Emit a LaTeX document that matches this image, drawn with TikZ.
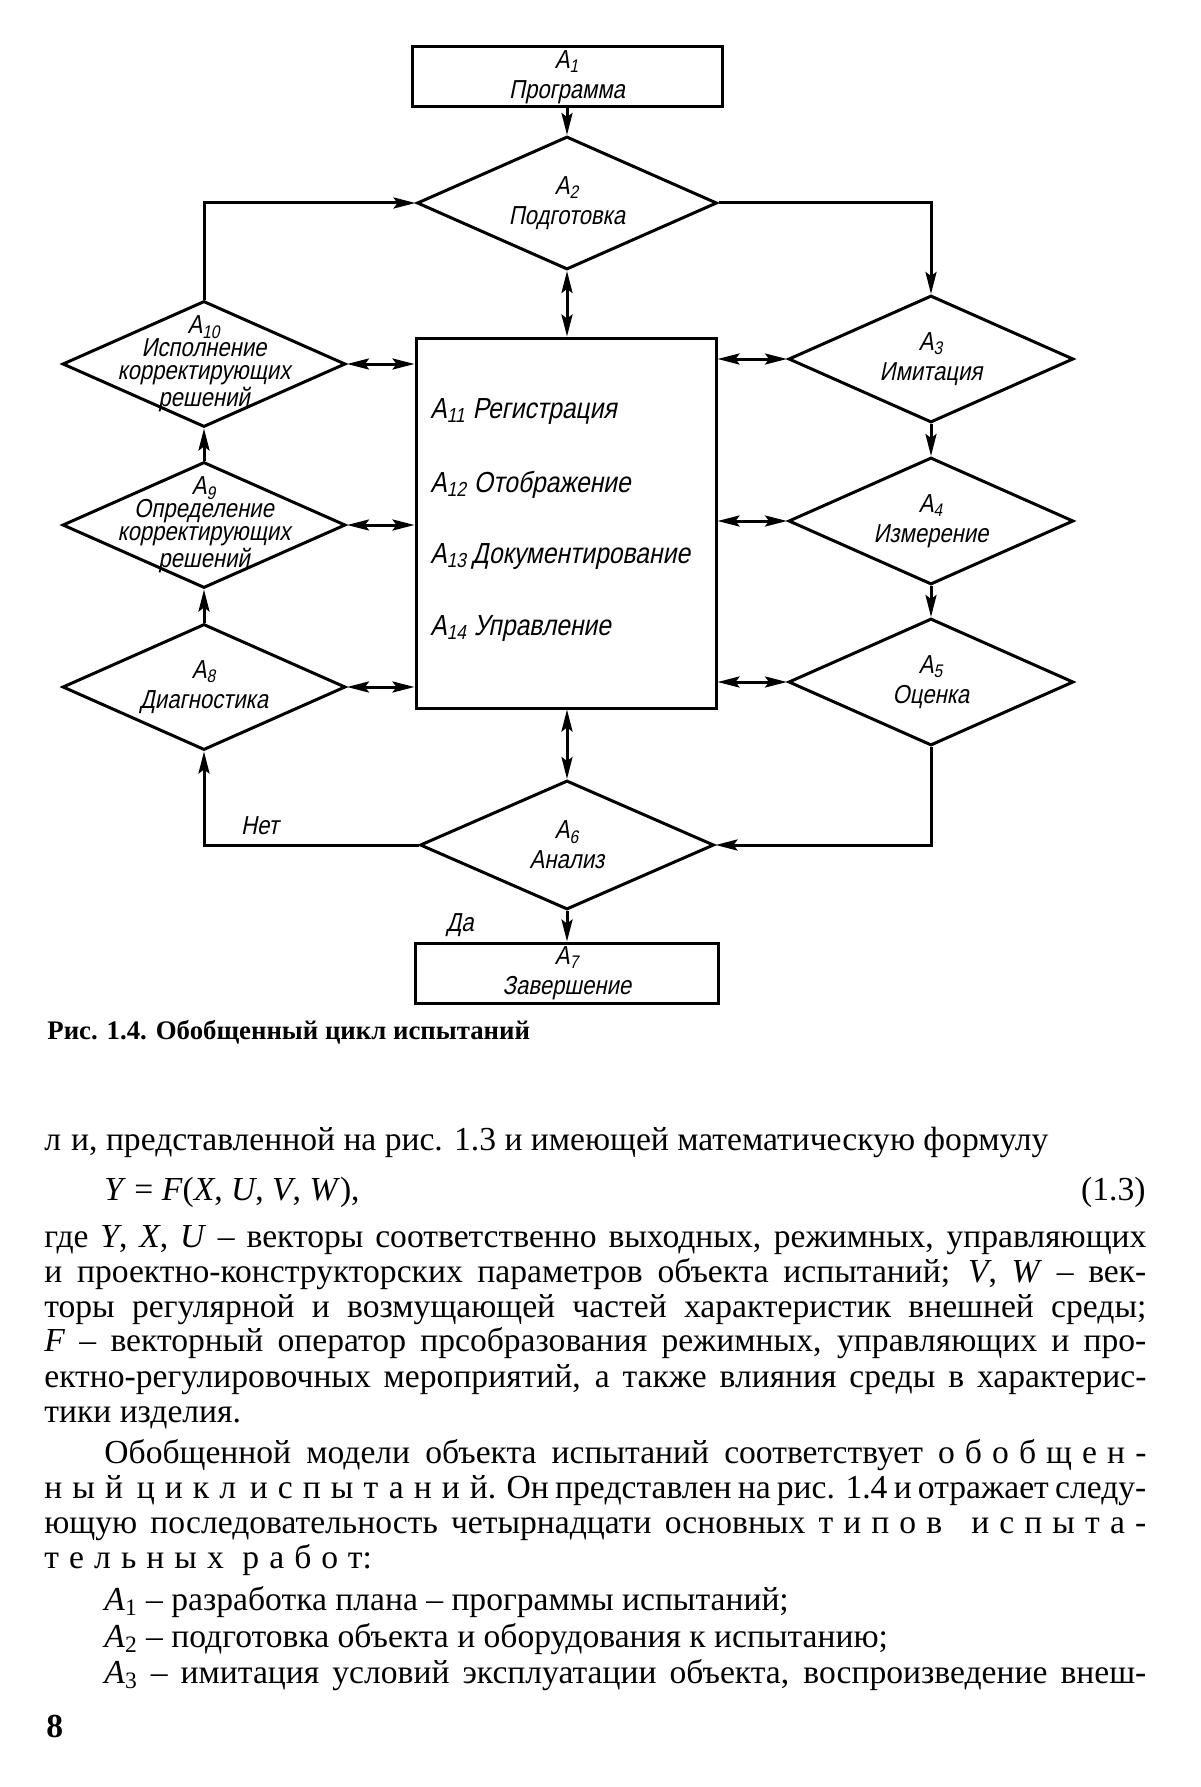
\documentclass[tikz,border=0pt]{standalone}
\usepackage{fontspec}
\setmainfont{Liberation Serif}
\newfontfamily\draftfont[FakeStretch=0.85,FakeSlant=0.2]{Liberation Sans}
\newfontfamily\spacedfont[LetterSpace=30]{Liberation Serif}
\usetikzlibrary{arrows.meta,positioning,shapes.geometric}
\newcommand{\spaced}[1]{{\spacedfont #1}}
\newcommand{\just}[2]{\makebox[#1][s]{#2}}
\tikzset{stage/.style={rectangle,draw,line width=1.5pt,inner sep=0pt,align=center,font=\draftfont\fontsize{13}{15}\selectfont},decision/.style={diamond,draw,line width=1.5pt,inner sep=0pt},tag/.style={align=center,inner sep=0pt,font=\draftfont\fontsize{13}{15}\selectfont},tagtight/.style={tag,font=\draftfont\fontsize{13}{11.5}\selectfont},entry/.style={anchor=base west,inner sep=0pt,font=\draftfont\fontsize{14.5}{15}\selectfont},flow/.style={-{Stealth[length=11pt,width=5.5pt,inset=2pt]},line width=1.5pt},duplex/.style={{Stealth[length=11pt,width=5.5pt,inset=2pt]}-{Stealth[length=11pt,width=5.5pt,inset=2pt]},line width=1.5pt},body/.style={anchor=base west,inner sep=0pt,font=\fontsize{16.8}{18}\selectfont}}

\begin{document}
\begin{tikzpicture}[x=0.5pt,y=-0.5pt]
\useasboundingbox[fill=white] (0,0) rectangle (1200,1787);
% flow chart
\node[stage,minimum width=155pt,minimum height=30pt] (a1) at (567,77) {A\textsubscript{1}\\Программа};
\node[decision,minimum width=150pt,minimum height=66.5pt,label={[tag]center:{A\textsubscript{2}\\Подготовка}}] (a2) at (567,203) {};
\node[draw,line width=1.5pt,minimum width=150pt,minimum height=185pt,inner sep=0pt] (reg) at (566,523) {};
\foreach \n/\y/\txt in {3/359/Имитация,4/521/Измерение,5/682/Оценка}{\node[decision,minimum width=142.5pt,minimum height=63.5pt,label={[tag]center:{A\textsubscript{\n}\\\txt}}] (a\n) at (931,\y) {};}
\node[decision,minimum width=147pt,minimum height=64.5pt,label={[tag]center:{A\textsubscript{6}\\Анализ}}] (a6) at (567,845) {};
\node[stage,minimum width=151.5pt,minimum height=30pt] (a7) at (567,973) {A\textsubscript{7}\\Завершение};
\node[decision,minimum width=141.5pt,minimum height=63pt,label={[tag]center:{A\textsubscript{8}\\Диагностика}}] (a8) at (204,687) {};
\node[decision,minimum width=141.5pt,minimum height=63pt,label={[tagtight]center:{A\textsubscript{9}\\Определение\\корректирующих\\решений}}] (a9) at (204,525) {};
\node[decision,minimum width=141.5pt,minimum height=63pt,label={[tagtight]center:{A\textsubscript{10}\\Исполнение\\корректирующих\\решений}}] (a10) at (204,364) {};
\node[entry] (a11) at (430,418) {A\textsubscript{11} Регистрация};
\node[entry] (a12) at (430,492) {A\textsubscript{12} Отображение};
\node[entry] (a13) at (430,563) {A\textsubscript{13}\,Документирование};
\node[entry] (a14) at (430,635) {A\textsubscript{14} Управление};
\draw[flow] (a1) -- (a2);
\draw[flow] (a10.north) |- (a2.west);
\draw[flow] (a2.east) -| (a3.north);
\draw[flow] (a3) -- (a4);
\draw[flow] (a4) -- (a5);
\draw[flow] (a5.south) |- (a6.east);
\draw[flow] (a6.west) -| (a8.south);
\draw[flow] (a8) -- (a9);
\draw[flow] (a9) -- (a10);
\draw[flow] (a6) -- (a7);
\draw[duplex] (a2.south) -- (a2.south |- reg.north);
\draw[duplex] (reg.south -| a6.north) -- (a6.north);
\foreach \n in {8,9,10}{\draw[duplex] (a\n.east) -- (a\n.east -| reg.west);}
\foreach \n in {3,4,5}{\draw[duplex] (a\n.west) -- (a\n.west -| reg.east);}
\node[tag] (no) at (260,826) {Нет};
\node[tag] (yes) at (460,925) {Да};
% caption and page text
\node[anchor=base west,inner sep=0pt,font=\bfseries\fontsize{13.4}{15}\selectfont] (cap) at (47,1039) {Рис. 1.4. Обобщенный цикл испытаний};
\node[body] (l1) at (44,1150) {\spaced{ли}, представленной на рис. 1.3 и имеющей математическую формулу};
\node[body] (l2) at (104,1200) {\textit{Y} = \textit{F}(\textit{X}, \textit{U}, \textit{V}, \textit{W}),};
\node[body,anchor=base east] (eq) at (1146,1200) {(1.3)};
\node[body] (l3) at (44,1247) {\just{551pt}{где \textit{Y}, \textit{X}, \textit{U} – векторы соответственно выходных, режимных, управляющих}};
\node[body] (l4) at (44,1282) {\just{551pt}{и проектно-конструкторских параметров объекта испытаний; \textit{V}, \textit{W} – век-}};
\node[body] (l5) at (44,1317) {\just{551pt}{торы регулярной и возмущающей частей характеристик внешней среды;}};
\node[body] (l6) at (44,1351) {\just{551pt}{\textit{F} – векторный оператор прсобразования режимных, управляющих и про-}};
\node[body] (l7) at (44,1387) {\just{551pt}{ектно-регулировочных мероприятий, а также влияния среды в характерис-}};
\node[body] (l8) at (44,1422) {тики изделия.};
\node[body] (l9) at (104,1463) {\just{521pt}{Обобщенной модели объекта испытаний соответствует \spaced{обобщен-}}};
\node[body] (l10) at (44,1498) {\just{551pt}{\spaced{ный цикл испытаний}. Он представлен на рис. 1.4 и отражает следу-}};
\node[body] (l11) at (44,1533) {\just{551pt}{ющую последовательность четырнадцати основных \spaced{типов испыта-}}};
\node[body] (l12) at (44,1568) {\spaced{тельных работ}:};
\node[body] (l13) at (104,1610) {\textit{A}\textsubscript{1} – разработка плана – программы испытаний;};
\node[body] (l14) at (104,1647) {\textit{A}\textsubscript{2} – подготовка объекта и оборудования к испытанию;};
\node[body] (l15) at (104,1683) {\just{521pt}{\textit{A}\textsubscript{3} – имитация условий эксплуатации объекта, воспроизведение внеш-}};
\node[body,font=\bfseries\fontsize{16.8}{18}\selectfont] (pg) at (46,1737) {8};
\end{tikzpicture}
\end{document}
